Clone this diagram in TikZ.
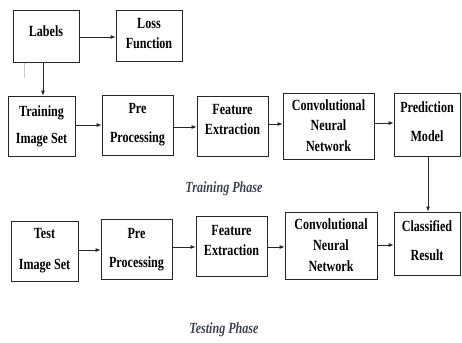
\documentclass[tikz,border=0pt]{standalone}
\usepackage{fontspec}
\setmainfont{Liberation Serif}[FakeStretch=0.78]
\usetikzlibrary{arrows.meta}
\newcommand{\tb}[2]{\raisebox{#1}[\height][\depth]{\begin{tabular}{@{}c@{}}#2\end{tabular}}}
\begin{document}
\begin{tikzpicture}[x=1pt,y=1pt,
  box/.style={draw=black!85, line width=0.8pt, inner sep=0pt,
    font=\fontsize{15.5}{20}\selectfont\bfseries},
  arr/.style={draw=black!85, line width=0.8pt, -{Latex[length=5pt,width=4pt]}},
  phase/.style={font=\fontsize{15.5}{18}\selectfont\bfseries\itshape, text={rgb,255:red,60;green,66;blue,82}}]
\useasboundingbox (0,0) rectangle (462,-342);
% training row
\node[box, minimum width=66pt, minimum height=52pt] (labels) at (46,-36) {\tb{3pt}{Labels}};
\node[box, minimum width=66pt, minimum height=51pt] (loss) at (149,-35.5) {\tb{1pt}{Loss\\Function}};
\node[box, minimum width=67pt, minimum height=60pt] (train) at (41.5,-126) {\tb{0pt}{Training\\[7pt]Image Set}};
\node[box, minimum width=71pt, minimum height=60pt] (pre1) at (137.5,-125) {\tb{1.5pt}{Pre\\[9pt]Processing}};
\node[box, minimum width=71pt, minimum height=60pt] (feat1) at (232.5,-126) {\tb{5pt}{Feature\\Extraction}};
\node[box, minimum width=91pt, minimum height=66pt] (cnn1) at (328.5,-126) {\tb{-1pt}{Convolutional\\Neural\\Network}};
\node[box, minimum width=66pt, minimum height=63pt] (pred) at (427,-124.5) {\tb{2pt}{Prediction\\[9pt]Model}};
\node[phase] (ptrain) at (224,-189) {Training Phase};
% testing row
\node[box, minimum width=67pt, minimum height=60pt] (test) at (44.5,-251) {\tb{1.5pt}{Test\\[11pt]Image Set}};
\node[box, minimum width=71pt, minimum height=60pt] (pre2) at (136.5,-249) {\tb{0.5pt}{Pre\\[9pt]Processing}};
\node[box, minimum width=71pt, minimum height=60pt] (feat2) at (231.5,-246) {\tb{5pt}{Feature\\Extraction}};
\node[box, minimum width=92pt, minimum height=67pt] (cnn2) at (331,-245.5) {\tb{-0.5pt}{Convolutional\\[1pt]Neural\\[1pt]Network}};
\node[box, minimum width=66pt, minimum height=63pt] (cls) at (427,-243.5) {\tb{2pt}{Classified\\[9pt]Result}};
\node[phase] (ptest) at (224,-330) {Testing Phase};
% connectors
\draw[arr] ([yshift=-1pt]labels.east) -- ([yshift=-1pt]labels.east -| loss.west);
\draw[arr] ([xshift=-3pt]labels.south) -- ([xshift=-3pt]labels.south |- train.north);
\draw[black!20, line width=1pt] ([xshift=-22pt,yshift=-1pt]labels.south) -- ++(0,-15);
\draw[arr] ([yshift=1pt]train.east) -- ([yshift=1pt]train.east -| pre1.west);
\draw[arr] ([yshift=-2pt]pre1.east) -- ([yshift=-2pt]pre1.east -| feat1.west);
\draw[arr] ([yshift=2pt]feat1.east) -- ([yshift=2pt]feat1.east -| cnn1.west);
\draw[arr] ([yshift=3pt]cnn1.east) -- ([yshift=3pt]cnn1.east -| pred.west);
\draw[arr] ([xshift=1pt]pred.south) -- ([xshift=1pt]pred.south |- cls.north);
\draw[arr] ([yshift=1pt]test.east) -- ([yshift=1pt]test.east -| pre2.west);
\draw[arr] ([yshift=2pt]pre2.east) -- ([yshift=2pt]pre2.east -| feat2.west);
\draw[arr] ([yshift=-1pt]feat2.east) -- ([yshift=-1pt]feat2.east -| cnn2.west);
\draw[arr] ([yshift=0.5pt]cnn2.east) -- ([yshift=0.5pt]cnn2.east -| cls.west);
\end{tikzpicture}
\end{document}
